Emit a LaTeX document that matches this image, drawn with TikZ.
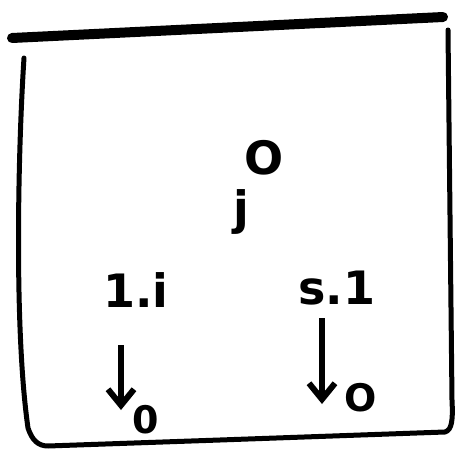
\documentclass[tikz,border=0pt]{standalone}
\usepackage{fontspec}
\setsansfont{DejaVu Sans}
\usetikzlibrary{arrows.meta}
\begin{document}
\begin{tikzpicture}[x=1pt,y=-1pt,
  ink/.style={line width=5pt,line cap=round,line join=round},
  hand/.style={font=\sffamily\bfseries\fontsize{46}{46}\selectfont,inner sep=0pt},
  sub/.style={font=\sffamily\bfseries\fontsize{38}{38}\selectfont,inner sep=0pt},
  arr/.style={line width=6pt,-{Straight Barb[length=16pt,width=26pt,line width=6pt]}}]
\useasboundingbox (0,0) rectangle (459,450);
% frame
\draw[line width=10pt,line cap=round] (12,38) -- (443,17);
\draw[ink] (24,58) .. controls (18,150) and (14,330) .. (28,428) .. controls (32,440) and (38,446) .. (48,446)
  -- (220,440) -- (445,432) .. controls (452,430) and (453,420) .. (452,400) -- (448,30);
% labels
\node[hand] (o) at (264,158) {O};
\node[hand] (j) at (241,212) {j};
\node[hand] (li) at (136,290) {1.i};
\node[hand] (rs) at (337,288) {s.1};
\node[sub] (l0) at (146,420) {0};
\node[sub] (r0) at (361,398) {O};
\coordinate (la) at (121,345);
\coordinate (lb) at (121,410);
\coordinate (ra) at (322,318);
\coordinate (rb) at (322,404);
\draw[arr] (la) -- (lb);
\draw[arr] (ra) -- (rb);
\end{tikzpicture}
\end{document}
